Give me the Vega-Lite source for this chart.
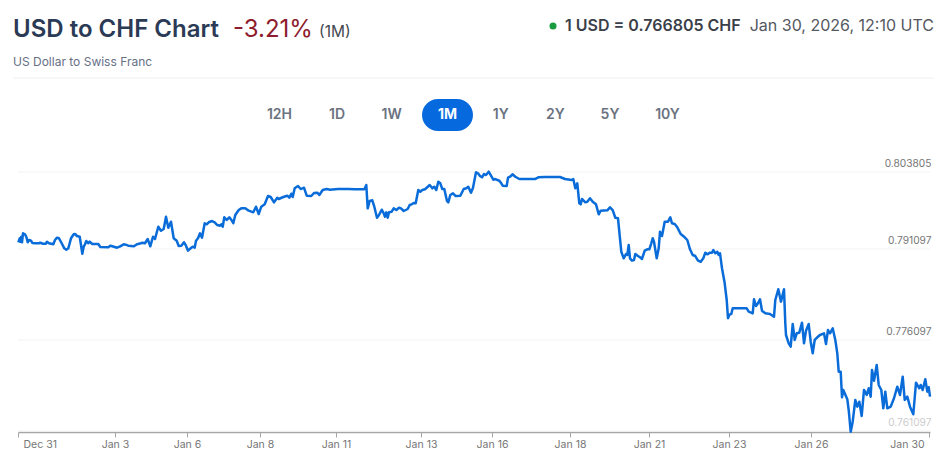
{
  "$schema": "https://vega.github.io/schema/vega-lite/v6.json",
  "width": 949,
  "height": 457,
  "autosize": {"type": "fit", "contains": "padding"},
  "padding": 0,
  "background": "#ffffff",
  "config": {"view": {"stroke": null}, "font": "Inter"},
  "datasets": {
    "rates": [
      {"sample":0.3,"rate":0.7922},{"sample":1.7,"rate":0.79286},{"sample":2.3,"rate":0.7923},{"sample":3.3,"rate":0.79312},{"sample":4,"rate":0.7922},{"sample":5,"rate":0.79368},{"sample":7,"rate":0.79352},{"sample":8.3,"rate":0.79312},{"sample":9.7,"rate":0.7922},{"sample":11,"rate":0.79258},
      {"sample":13,"rate":0.79246},{"sample":14.3,"rate":0.79209},{"sample":17,"rate":0.79204},{"sample":21,"rate":0.79204},{"sample":22.3,"rate":0.79213},{"sample":25,"rate":0.79197},{"sample":27.7,"rate":0.79197},{"sample":29,"rate":0.7923},{"sample":31,"rate":0.79204},{"sample":35.3,"rate":0.79187},
      {"sample":37,"rate":0.79258},{"sample":39,"rate":0.79296},{"sample":41,"rate":0.79286},{"sample":43.7,"rate":0.79204},{"sample":46.3,"rate":0.79121},{"sample":48.3,"rate":0.79098},{"sample":50.3,"rate":0.79121},{"sample":53,"rate":0.79286},{"sample":55.7,"rate":0.79352},{"sample":57,"rate":0.79357},
      {"sample":59,"rate":0.79324},{"sample":61.7,"rate":0.79312},{"sample":63,"rate":0.79176},{"sample":64.3,"rate":0.79032},{"sample":65.7,"rate":0.79148},{"sample":67,"rate":0.79187},{"sample":68.3,"rate":0.79242},{"sample":70.3,"rate":0.79204},{"sample":71.7,"rate":0.7923},{"sample":74.3,"rate":0.79192},
      {"sample":80.3,"rate":0.79192},{"sample":82.3,"rate":0.79143},{"sample":90.3,"rate":0.79138},{"sample":92.3,"rate":0.79164},{"sample":94.3,"rate":0.79154},{"sample":99,"rate":0.79131},{"sample":101.7,"rate":0.79148},{"sample":105.7,"rate":0.79187},{"sample":107.7,"rate":0.79181},{"sample":110.3,"rate":0.79164},
      {"sample":115.7,"rate":0.79154},{"sample":119,"rate":0.79187},{"sample":123,"rate":0.79204},{"sample":124.3,"rate":0.79213},{"sample":127,"rate":0.79204},{"sample":129.7,"rate":0.79274},{"sample":132.3,"rate":0.79154},{"sample":135,"rate":0.79312},{"sample":137,"rate":0.79274},{"sample":140.3,"rate":0.79477},
      {"sample":143,"rate":0.79411},{"sample":145.7,"rate":0.79439},{"sample":148,"rate":0.79642},{"sample":150.3,"rate":0.79461},{"sample":153,"rate":0.7956},{"sample":155.7,"rate":0.79286},{"sample":158.7,"rate":0.79246},{"sample":160.7,"rate":0.79159},{"sample":163.3,"rate":0.79164},{"sample":166,"rate":0.7922},
      {"sample":168,"rate":0.79164},{"sample":170,"rate":0.79082},{"sample":172.7,"rate":0.79121},{"sample":174.7,"rate":0.79148},{"sample":176.7,"rate":0.79131},{"sample":178,"rate":0.79246},{"sample":180,"rate":0.79286},{"sample":182,"rate":0.79368},{"sample":184,"rate":0.79296},{"sample":186.7,"rate":0.79533},
      {"sample":188.7,"rate":0.79517},{"sample":190.7,"rate":0.7955},{"sample":194,"rate":0.79571},{"sample":196.7,"rate":0.7955},{"sample":199.3,"rate":0.79505},{"sample":202,"rate":0.79494},{"sample":203.3,"rate":0.79517},{"sample":204.7,"rate":0.79477},{"sample":206.3,"rate":0.79632},{"sample":208.7,"rate":0.79588},
      {"sample":211.3,"rate":0.79632},{"sample":214,"rate":0.79576},{"sample":215.3,"rate":0.79533},{"sample":217.3,"rate":0.7967},{"sample":220.7,"rate":0.79752},{"sample":223.3,"rate":0.7978},{"sample":227.3,"rate":0.7978},{"sample":230.7,"rate":0.79741},{"sample":235.3,"rate":0.79714},{"sample":238,"rate":0.79807},
      {"sample":240.7,"rate":0.79686},{"sample":243.3,"rate":0.79807},{"sample":246.7,"rate":0.79846},{"sample":250,"rate":0.79983},{"sample":252.7,"rate":0.79967},{"sample":256,"rate":0.79879},{"sample":259.3,"rate":0.79955},{"sample":260.7,"rate":0.79934},{"sample":265.3,"rate":0.79967},{"sample":269.3,"rate":0.79988},
      {"sample":271.3,"rate":0.79955},{"sample":273.3,"rate":0.80021},{"sample":274.7,"rate":0.79967},{"sample":276.7,"rate":0.8011},{"sample":280,"rate":0.80148},{"sample":282.7,"rate":0.80098},{"sample":286,"rate":0.8012},{"sample":288.7,"rate":0.79988},{"sample":293.3,"rate":0.79983},{"sample":296,"rate":0.80033},
      {"sample":299.3,"rate":0.80038},{"sample":301.3,"rate":0.8},{"sample":304.7,"rate":0.80082},{"sample":308.7,"rate":0.80098},{"sample":312,"rate":0.80087},{"sample":317,"rate":0.80094},{"sample":320.3,"rate":0.80098},{"sample":330.3,"rate":0.80098},{"sample":337,"rate":0.80094},{"sample":346.3,"rate":0.80094},
      {"sample":348.3,"rate":0.80165},{"sample":349.7,"rate":0.7978},{"sample":351.7,"rate":0.79901},{"sample":354.3,"rate":0.79912},{"sample":356.3,"rate":0.79807},{"sample":359,"rate":0.79625},{"sample":361,"rate":0.7967},{"sample":363.7,"rate":0.79757},{"sample":365.7,"rate":0.79698},{"sample":367,"rate":0.79642},
      {"sample":368.3,"rate":0.79714},{"sample":369.7,"rate":0.79625},{"sample":371,"rate":0.79714},{"sample":373.7,"rate":0.79724},{"sample":375.7,"rate":0.7978},{"sample":378.3,"rate":0.79752},{"sample":381,"rate":0.7979},{"sample":383,"rate":0.7978},{"sample":385.7,"rate":0.79736},{"sample":389.7,"rate":0.79769},
      {"sample":391.7,"rate":0.79835},{"sample":393.7,"rate":0.79846},{"sample":395.7,"rate":0.79868},{"sample":397.7,"rate":0.79863},{"sample":400.3,"rate":0.80082},{"sample":402.3,"rate":0.80054},{"sample":404.3,"rate":0.80082},{"sample":407,"rate":0.80094},{"sample":411.7,"rate":0.80164},{"sample":414.3,"rate":0.8011},
      {"sample":416.3,"rate":0.80136},{"sample":418.3,"rate":0.80082},{"sample":420.3,"rate":0.80219},{"sample":422.3,"rate":0.80192},{"sample":424.3,"rate":0.80098},{"sample":426.3,"rate":0.80098},{"sample":429,"rate":0.79901},{"sample":430.3,"rate":0.79879},{"sample":432.3,"rate":0.8},{"sample":435,"rate":0.80028},
      {"sample":437.7,"rate":0.79983},{"sample":442.3,"rate":0.79988},{"sample":445.7,"rate":0.80098},{"sample":448.3,"rate":0.8011},{"sample":450.3,"rate":0.80136},{"sample":453,"rate":0.80038},{"sample":455,"rate":0.8012},{"sample":458,"rate":0.80374},{"sample":460,"rate":0.80357},{"sample":462,"rate":0.80313},
      {"sample":464,"rate":0.80291},{"sample":466,"rate":0.80346},{"sample":468,"rate":0.80329},{"sample":470.7,"rate":0.80384},{"sample":472.7,"rate":0.80329},{"sample":475.3,"rate":0.80252},{"sample":477.3,"rate":0.80263},{"sample":481.3,"rate":0.80235},{"sample":483.3,"rate":0.80192},{"sample":484.7,"rate":0.80153},
      {"sample":488.7,"rate":0.80148},{"sample":490,"rate":0.80285},{"sample":492,"rate":0.80301},{"sample":494.7,"rate":0.80341},{"sample":497.3,"rate":0.80301},{"sample":501.3,"rate":0.80263},{"sample":517,"rate":0.80263},{"sample":520.3,"rate":0.80291},{"sample":527,"rate":0.80296},{"sample":542,"rate":0.80296},
      {"sample":547,"rate":0.80263},{"sample":553.7,"rate":0.80247},{"sample":555.3,"rate":0.80263},{"sample":557.3,"rate":0.8011},{"sample":559.3,"rate":0.80192},{"sample":561.3,"rate":0.79863},{"sample":562.7,"rate":0.79846},{"sample":564,"rate":0.79934},{"sample":567.3,"rate":0.79879},{"sample":569.3,"rate":0.79889},
      {"sample":572,"rate":0.79945},{"sample":574.7,"rate":0.79889},{"sample":578,"rate":0.79846},{"sample":580.7,"rate":0.79682},{"sample":582.7,"rate":0.79741},{"sample":589.3,"rate":0.79747},{"sample":592,"rate":0.79797},{"sample":594.7,"rate":0.79752},{"sample":597.3,"rate":0.79625},{"sample":600,"rate":0.79616},
      {"sample":601.3,"rate":0.79395},{"sample":603.3,"rate":0.79065},{"sample":605.7,"rate":0.78956},{"sample":608,"rate":0.79027},{"sample":609.3,"rate":0.79011},{"sample":610.7,"rate":0.79176},{"sample":612,"rate":0.78956},{"sample":614,"rate":0.78917},{"sample":616,"rate":0.78928},{"sample":617.3,"rate":0.79027},
      {"sample":620,"rate":0.78994},{"sample":622,"rate":0.78973},{"sample":624,"rate":0.78945},{"sample":626.7,"rate":0.79082},{"sample":629.3,"rate":0.79105},{"sample":631.3,"rate":0.79105},{"sample":633.3,"rate":0.79204},{"sample":634.7,"rate":0.79286},{"sample":636,"rate":0.7923},{"sample":638.7,"rate":0.78956},
      {"sample":640.7,"rate":0.79121},{"sample":642,"rate":0.79395},{"sample":644,"rate":0.79324},{"sample":646.7,"rate":0.7956},{"sample":650,"rate":0.7956},{"sample":652.3,"rate":0.79632},{"sample":654,"rate":0.79533},{"sample":656.7,"rate":0.79522},{"sample":659.3,"rate":0.79467},{"sample":662.7,"rate":0.79357},
      {"sample":666.7,"rate":0.79302},{"sample":669.3,"rate":0.79258},{"sample":672,"rate":0.79105},{"sample":674.7,"rate":0.79011},{"sample":677.3,"rate":0.78994},{"sample":680,"rate":0.78917},{"sample":682.7,"rate":0.789},{"sample":685.3,"rate":0.78956},{"sample":687.3,"rate":0.79049},{"sample":689.3,"rate":0.79022},
      {"sample":692,"rate":0.79049},{"sample":694,"rate":0.79049},{"sample":695.3,"rate":0.79093},{"sample":697.3,"rate":0.79039},{"sample":699.3,"rate":0.79065},{"sample":700.7,"rate":0.79011},{"sample":702,"rate":0.79039},{"sample":704,"rate":0.78792},{"sample":706.7,"rate":0.78544},{"sample":708.7,"rate":0.78269},
      {"sample":710,"rate":0.77968},{"sample":711.3,"rate":0.78022},{"sample":713.3,"rate":0.78039},{"sample":714.7,"rate":0.78132},{"sample":728.7,"rate":0.78132},{"sample":730.7,"rate":0.78076},{"sample":734.7,"rate":0.78049},{"sample":736,"rate":0.7828},{"sample":738,"rate":0.7817},{"sample":740,"rate":0.78215},
      {"sample":742,"rate":0.7828},{"sample":744,"rate":0.78093},{"sample":747.3,"rate":0.78049},{"sample":752,"rate":0.78039},{"sample":756,"rate":0.77994},{"sample":757.3,"rate":0.78269},{"sample":760.3,"rate":0.78446},{"sample":763,"rate":0.78242},{"sample":766,"rate":0.78446},{"sample":767.3,"rate":0.77885},
      {"sample":768,"rate":0.77692},{"sample":770.7,"rate":0.77555},{"sample":772.7,"rate":0.77499},{"sample":774.7,"rate":0.77873},{"sample":776.7,"rate":0.7761},{"sample":778.7,"rate":0.7772},{"sample":781.3,"rate":0.7773},{"sample":784,"rate":0.77895},{"sample":786,"rate":0.77555},{"sample":788,"rate":0.77763},
      {"sample":790.7,"rate":0.77873},{"sample":792.7,"rate":0.77582},{"sample":794.7,"rate":0.7739},{"sample":796.7,"rate":0.7761},{"sample":799.3,"rate":0.77654},{"sample":802,"rate":0.77692},{"sample":806,"rate":0.7772},{"sample":808,"rate":0.77544},{"sample":810,"rate":0.77774},{"sample":812,"rate":0.7772},
      {"sample":814.7,"rate":0.77802},{"sample":817.3,"rate":0.7761},{"sample":819.3,"rate":0.7739},{"sample":820.7,"rate":0.77087},{"sample":822.7,"rate":0.77087},{"sample":824,"rate":0.76666},{"sample":825.3,"rate":0.76786},{"sample":829.3,"rate":0.76633},{"sample":830.7,"rate":0.76456},{"sample":832.7,"rate":0.76099},
      {"sample":834.7,"rate":0.76264},{"sample":837.3,"rate":0.76621},{"sample":839.3,"rate":0.76511},{"sample":841.3,"rate":0.76593},{"sample":843.7,"rate":0.76358},{"sample":846,"rate":0.76786},{"sample":848.7,"rate":0.76704},{"sample":850.7,"rate":0.76814},{"sample":852.7,"rate":0.76676},{"sample":854,"rate":0.77116},
      {"sample":856,"rate":0.76939},{"sample":858.7,"rate":0.77198},{"sample":860.7,"rate":0.76868},{"sample":863.3,"rate":0.76786},{"sample":865.3,"rate":0.76484},{"sample":867.3,"rate":0.76758},{"sample":869.3,"rate":0.76484},{"sample":872.7,"rate":0.76511},{"sample":876,"rate":0.76649},{"sample":879.3,"rate":0.7684},
      {"sample":882,"rate":0.76704},{"sample":884.7,"rate":0.77005},{"sample":886.7,"rate":0.76621},{"sample":889.3,"rate":0.76676},{"sample":892,"rate":0.76511},{"sample":895.3,"rate":0.76386},{"sample":898,"rate":0.76906},{"sample":901.3,"rate":0.76814},{"sample":902.7,"rate":0.76868},{"sample":904.7,"rate":0.76786},
      {"sample":907.3,"rate":0.76962},{"sample":909.3,"rate":0.76758},{"sample":910.7,"rate":0.76831},{"sample":912,"rate":0.76676}
    ],
    "levels": [{"level":0.803805},{"level":0.791097},{"level":0.776097},{"level":0.761097}]
  },
  "resolve": {
    "scale": {"x": "independent", "y": "independent"},
    "axis": {"x": "independent", "y": "independent"}
  },
  "layer": [
    {
      "data": {"values": [{"item":"title","label":"USD to CHF Chart"}]},
      "mark": {"type":"text","align":"left","baseline":"middle","fontSize":24,"fontWeight":600,"color":"#2b3a55"},
      "encoding": {
        "x": {"field":"item","type":"nominal","axis":null,"scale":{"type":"point","range":[13,13]}},
        "y": {"field":"item","type":"nominal","axis":null,"scale":{"type":"point","range":[30,30]}},
        "text": {"field":"label"}
      }
    },
    {
      "data": {"values": [{"item":"change","label":"-3.21%"}]},
      "mark": {"type":"text","align":"left","baseline":"middle","fontSize":24,"fontWeight":400,"color":"#8e1c2c"},
      "encoding": {
        "x": {"field":"item","type":"nominal","axis":null,"scale":{"type":"point","range":[233,233]}},
        "y": {"field":"item","type":"nominal","axis":null,"scale":{"type":"point","range":[30,30]}},
        "text": {"field":"label"}
      }
    },
    {
      "data": {"values": [{"item":"period","label":"(1M)"}]},
      "mark": {"type":"text","align":"left","baseline":"middle","fontSize":15.5,"color":"#44474f"},
      "encoding": {
        "x": {"field":"item","type":"nominal","axis":null,"scale":{"type":"point","range":[319,319]}},
        "y": {"field":"item","type":"nominal","axis":null,"scale":{"type":"point","range":[32,32]}},
        "text": {"field":"label"}
      }
    },
    {
      "data": {"values": [{"item":"subtitle","label":"US Dollar to Swiss Franc"}]},
      "mark": {"type":"text","align":"left","baseline":"middle","fontSize":12,"color":"#667085"},
      "encoding": {
        "x": {"field":"item","type":"nominal","axis":null,"scale":{"type":"point","range":[13,13]}},
        "y": {"field":"item","type":"nominal","axis":null,"scale":{"type":"point","range":[62,62]}},
        "text": {"field":"label"}
      }
    },
    {
      "data": {"values": [{"item":"status"}]},
      "mark": {"type":"point","filled":true,"size":50,"opacity":1,"color":"#1a9c3e"},
      "encoding": {
        "x": {"field":"item","type":"nominal","axis":null,"scale":{"type":"point","range":[553,553]}},
        "y": {"field":"item","type":"nominal","axis":null,"scale":{"type":"point","range":[26,26]}}
      }
    },
    {
      "data": {"values": [{"item":"rate","label":"1 USD = 0.766805 CHF"}]},
      "mark": {"type":"text","align":"left","baseline":"middle","fontSize":16,"fontWeight":600,"color":"#3a3f4a"},
      "encoding": {
        "x": {"field":"item","type":"nominal","axis":null,"scale":{"type":"point","range":[565,565]}},
        "y": {"field":"item","type":"nominal","axis":null,"scale":{"type":"point","range":[26,26]}},
        "text": {"field":"label"}
      }
    },
    {
      "data": {"values": [{"item":"time","label":"Jan 30, 2026, 12:10 UTC"}]},
      "mark": {"type":"text","align":"right","baseline":"middle","fontSize":16,"color":"#55585f"},
      "encoding": {
        "x": {"field":"item","type":"nominal","axis":null,"scale":{"type":"point","range":[934,934]}},
        "y": {"field":"item","type":"nominal","axis":null,"scale":{"type":"point","range":[26,26]}},
        "text": {"field":"label"}
      }
    },
    {
      "data": {"values": [{"edge":"left","row":"divider"},{"edge":"right","row":"divider"}]},
      "mark": {"type":"line","color":"#f0f0f0","strokeWidth":1},
      "encoding": {
        "x": {"field":"edge","type":"nominal","axis":null,"scale":{"type":"point","padding":0,"range":[13,934]}},
        "y": {"field":"row","type":"nominal","axis":null,"scale":{"type":"point","range":[78,78]}}
      }
    },
    {
      "data": {"values": [{"item":"1M"}]},
      "mark": {"type":"bar","width":51,"height":32,"cornerRadius":16,"color":"#0769de"},
      "encoding": {
        "x": {"field":"item","type":"nominal","axis":null,"scale":{"type":"point","range":[447.5,447.5]}},
        "y": {"field":"item","type":"nominal","axis":null,"scale":{"type":"point","range":[115,115]}}
      }
    },
    {
      "data": {"values": [{"item":"1M"}]},
      "mark": {"type":"text","baseline":"middle","fontSize":14,"fontWeight":700,"color":"#ffffff"},
      "encoding": {
        "x": {"field":"item","type":"nominal","axis":null,"scale":{"type":"point","range":[447.5,447.5]}},
        "y": {"field":"item","type":"nominal","axis":null,"scale":{"type":"point","range":[115,115]}},
        "text": {"field":"item"}
      }
    },
    {
      "data": {"values": [{"item":"12H","row":"buttons"},{"item":"10Y","row":"buttons"}]},
      "mark": {"type":"text","baseline":"middle","fontSize":14,"fontWeight":600,"color":"#6b7280"},
      "encoding": {
        "x": {"field":"item","type":"nominal","sort":null,"axis":null,"scale":{"type":"point","padding":0,"domain":["12H","10Y"],"range":[279.5,667.5]}},
        "y": {"field":"row","type":"nominal","axis":null,"scale":{"type":"point","range":[115,115]}},
        "text": {"field":"item"}
      }
    },
    {
      "data": {"values": [{"item":"1D","row":"buttons"},{"item":"1W","row":"buttons"},{"item":"1Y","row":"buttons"},{"item":"2Y","row":"buttons"},{"item":"5Y","row":"buttons"}]},
      "mark": {"type":"text","baseline":"middle","fontSize":14,"fontWeight":600,"color":"#6b7280"},
      "encoding": {
        "x": {"field":"item","type":"nominal","axis":null,"scale":{"type":"point","padding":0,"domain":["1D","1W","1M","1Y","2Y","5Y"],"range":[337,610]}},
        "y": {"field":"row","type":"nominal","axis":null,"scale":{"type":"point","range":[115,115]}},
        "text": {"field":"item"}
      }
    },
    {
      "layer": [
        {
          "data": {"name": "levels"},
          "mark": {"type":"rule","color":"#f3f3f3","strokeWidth":1},
          "encoding": {
            "x": {"datum":0,"type":"quantitative"},
            "x2": {"datum":912},
            "y": {
              "field":"level","type":"quantitative",
              "axis": {
                "orient":"right","offset":-18,"title":null,"domain":false,"ticks":false,"grid":false,
                "values":[0.761097,0.776097,0.791097,0.803805],
                "format":".6f","labelAlign":"right","labelPadding":0,"labelOffset":-8,"labelFontSize":10.2,"labelFont":"Inter",
                "labelColor":{"condition":{"test":"datum.value < 0.77","value":"#cccccc"},"value":"#767676"}
              }
            }
          }
        },
        {
          "data": {"name": "rates"},
          "mark": {"type":"line","color":"#0a6cd9","strokeWidth":2.5,"strokeJoin":"round","interpolate":"linear"},
          "encoding": {
            "x": {
              "field":"sample","type":"quantitative",
              "scale": {"domain":[0,912],"range":[18,930],"nice":false,"zero":false},
              "axis": {
                "orient":"bottom","offset":-25,"title":null,"grid":false,
                "values":[0,97,169,242,318,403,474,552,631,711,793,911],
                "labelExpr":"{'0':'Dec 31','97':'Jan 3','169':'Jan 6','242':'Jan 8','318':'Jan 11','403':'Jan 13','474':'Jan 16','552':'Jan 18','631':'Jan 21','711':'Jan 23','793':'Jan 26','911':'Jan 30'}[datum.value]",
                "labelFlush":true,"labelFlushOffset":-5,"labelFontSize":10.5,"labelFont":"Inter","labelColor":"#767676","labelPadding":2,
                "domainColor":"#a6a6a6","domainWidth":1.5,"tickColor":"#a6a6a6","tickSize":5,"tickWidth":1
              }
            },
            "y": {
              "field":"rate","type":"quantitative",
              "scale": {"domain":[0.760932,0.804118],"range":[432,170],"nice":false,"zero":false}
            }
          }
        }
      ]
    }
  ]
}
